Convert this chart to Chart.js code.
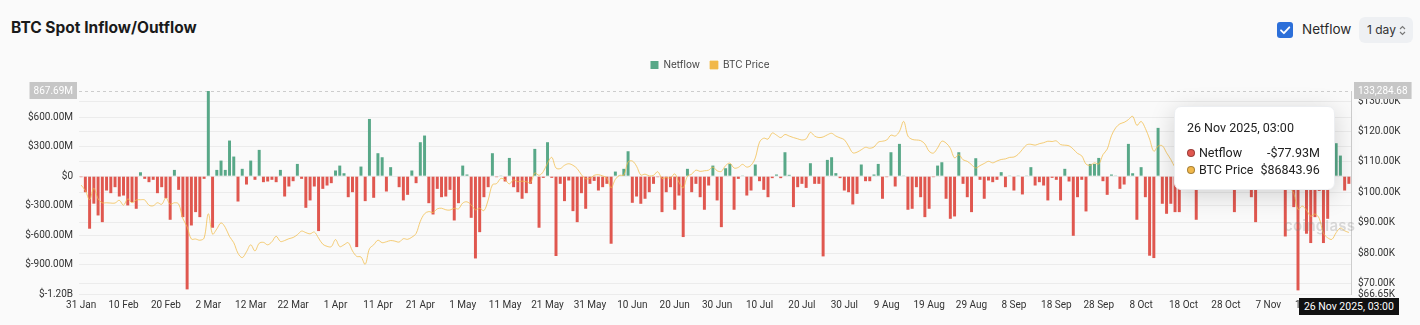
<!DOCTYPE html>
<html>
<head>
<meta charset="utf-8">
<title>BTC Spot Inflow/Outflow</title>
<script src="https://cdn.jsdelivr.net/npm/chart.js@4.4.1/dist/chart.umd.min.js"></script>
<style>
  html, body { margin: 0; padding: 0; background: #fafafa; }
  body { width: 1420px; height: 325px; overflow: hidden; position: relative; font-family: Inter, 'Noto Sans', sans-serif; color: #1d1d1f; }
  #chart { position: absolute; left: 0; top: 0; }
  h1 { position: absolute; left: 11px; top: 20px; margin: 0; font-size: 15.5px; line-height: 15px; font-weight: 700; color: #1a1a1a; }
  .check { position: absolute; left: 1277px; top: 22px; width: 16px; height: 16px; border-radius: 3px; background: #2c6fd9; }
  .check-label { position: absolute; left: 1302px; top: 21px; font-size: 13.5px; line-height: 17px; color: #2a2a2a; }
  .select { position: absolute; left: 1359px; top: 17px; width: 54px; height: 26px; box-sizing: border-box; border-radius: 6px; background: #eef0f3; font-size: 12px; line-height: 26px; padding-left: 8px; color: #333; }
  .select svg { position: absolute; right: 7px; top: 8px; }
  .watermark { position: absolute; left: 1284px; top: 216px; font-size: 15px; color: rgba(130,130,130,0.28); font-weight: 600; letter-spacing: 0.2px; }
  #tip { position: absolute; width: 161px; box-sizing: border-box; padding: 13px 14px 11px 12px; background: #fff; border: 1px solid #eceef1; border-radius: 7px; box-shadow: 0 5px 24px rgba(0,0,0,0.17); font-family: Roboto, sans-serif; font-size: 12.5px; color: #222; opacity: 0; pointer-events: none; white-space: nowrap; }
  #tip .t { margin-bottom: 9px; line-height: 16px; }
  #tip .row { display: flex; align-items: center; line-height: 16.5px; }
  #tip .dot { width: 6px; height: 6px; border-radius: 50%; margin-right: 4px; border: 1px solid rgba(0,0,0,0.3); flex: none; }
  #tip .name { flex: 1; }
  #xlabel { position: absolute; height: 17px; line-height: 17px; padding: 0 5px; background: #111; color: #fff; font-family: Roboto, sans-serif; font-size: 10.5px; white-space: nowrap; opacity: 0; }
</style>
</head>
<body>
<h1>BTC Spot Inflow/Outflow</h1>
<div class="check"><svg width="16" height="16" viewBox="0 0 16 16"><path d="M4 8.3 L6.9 11.2 L12.3 5.3" fill="none" stroke="#fff" stroke-width="1.8" stroke-linecap="round" stroke-linejoin="round"/></svg></div>
<div class="check-label">Netflow</div>
<div class="select">1 day<svg width="7" height="11" viewBox="0 0 7 11"><path d="M1 4 L3.5 1.5 L6 4 M1 7 L3.5 9.5 L6 7" fill="none" stroke="#777" stroke-width="1.1"/></svg></div>
<canvas id="chart" width="1420" height="325"></canvas>
<div class="watermark">coinglass</div>
<div id="tip"></div>
<div id="xlabel"></div>
<script>
// Daily data, 31 Jan 2025 .. 26 Nov 2025
const START_DATE = Date.UTC(2025, 0, 31);
const DAY_COUNT = 300;
const MONTHS = ['Jan', 'Feb', 'Mar', 'Apr', 'May', 'Jun', 'Jul', 'Aug', 'Sep', 'Oct', 'Nov', 'Dec'];

// netflow in millions of USD
const netflow = [
  -10,
  // Feb
  -163, -535, -280, -400, -468, -146, -173, -112, -207, -197, -298, -264, -332, 40, -27, -61, -37, -173, -112, -224, -444, 64, -139, -417, -1153, -502, -366, -417,
  // Mar
  -27, 867.69, -525, 64, 159, 64, 363, 200, -258, 75, -85, 159, -37, 268, -61, -54, -37, -61, 64, -207, -105, -51, 125, -27, -322, -247, -105, -559, -129, -95, -71,
  // Apr
  58, 108, 30, -214, -163, -722, 98, -254, 583, -220, 234, 193, -156, 92, -5, -112, -247, -190, 58, -71, 346, 414, -275, -390, -129, -214, -207, -139, -451, -275,
  // May
  108, 17, -424, -838, -570, -214, -112, 234, -10, 7, -54, 186, -112, -163, -230, -173, -78, 278, -525, -17, 346, -17, -813, -78, -254, -44, -356, -468, -173, -332, -78,
  // Jun
  -48, -146, -112, -78, -688, 47, 7, 75, 254, -271, -207, -281, -230, -163, -78, -10, -366, -163, -112, -342, -197, -620, 75, -163, -78, -214, -342, -95, 108, -247,
  // Jul
  -519, 81, 125, -342, -27, 3, -197, -146, 119, -51, -139, -214, -20, 17, -20, 244, 14, -315, -112, -78, -119, 132, -78, -78, -817, 166, 193, 31, -20, -146, -163,
  // Aug
  -288, -180, 119, -51, -51, 17, 125, -230, -10, 244, -105, 329, 7, -342, -332, -112, -214, -417, -332, -10, 108, 142, -230, -434, -410, 244, -78, -214, -366, 183, -37,
  // Sep
  -230, -44, -61, -37, 41, -112, 3, -146, 3, -186, 7, 92, -95, -61, -95, -247, -17, -37, -247, 75, -54, -607, -214, -37, -359, 125, 125, 186, -51, -190,
  // Oct
  17, 7, -129, -85, 329, 30, -444, 92, -214, -810, -834, 492, -281, -383, -281, -366, -366, -40, -60, -30, -444, -50, -80, 40, -60, -30, 50, -80, -40, -366, -50,
  // Nov
  60, -70, -214, -468, -30, 40, -90, -50, 30, -100, -614, -60, -315, -1163, -120, -586, -681, -417, -150, -681, -434, -30, 336, 210, -146, -77.93
];

const btcPrice = [
  102400,
  // Feb
  100600, 97600, 101400, 97900, 96600, 96600, 96500, 96500, 97400, 95800, 97900, 96600, 97500, 97600, 97500, 95800, 95600, 96600, 96100, 98200, 96100, 96600, 96200, 91400, 88700, 84700, 84700, 84300,
  // Mar
  85000, 93000, 86300, 88000, 90000, 88500, 85500, 83500, 80000, 78600, 80500, 82800, 80800, 83300, 83600, 82800, 83800, 85600, 83900, 84200, 84800, 85200, 86100, 87300, 86800, 86400, 87000, 85000, 83000, 82300, 82200,
  // Apr
  84500, 82200, 82800, 83500, 80800, 79000, 78800, 76400, 81500, 82800, 84300, 83500, 83800, 84200, 84000, 83700, 84800, 84600, 85300, 86500, 90500, 93000, 93700, 93400, 94600, 94800, 94300, 94200, 94800, 94600,
  // May
  96500, 96900, 95900, 94300, 94800, 94000, 97500, 102500, 102900, 104600, 104100, 102800, 104100, 103500, 103700, 103500, 103200, 106400, 105600, 106800, 109600, 111500, 108000, 107800, 108900, 109400, 108900, 107800, 105800, 104500, 104600,
  // Jun
  105600, 105800, 105400, 104700, 101500, 104300, 105600, 105700, 110000, 110300, 108600, 105700, 106000, 105400, 105600, 106800, 104600, 104900, 104700, 106100, 103300, 101500, 105300, 106000, 107300, 106900, 107100, 107300, 108300, 107100,
  // Jul
  106900, 108800, 109600, 108000, 108200, 109200, 108300, 108900, 111300, 116500, 117800, 117500, 119500, 118800, 118000, 119000, 118500, 118000, 117600, 117200, 117600, 119700, 118500, 118000, 118200, 118900, 119400, 118500, 117900, 117300, 115200,
  // Aug
  113000, 113200, 114000, 114800, 114500, 114900, 116500, 116800, 117200, 118800, 118500, 120000, 123300, 118500, 117400, 117200, 117000, 115900, 113500, 112900, 114600, 116800, 116200, 114500, 111300, 112400, 110700, 110200, 109100, 108000, 108800,
  // Sep
  109500, 110200, 109700, 110300, 110800, 111000, 111500, 111600, 112500, 114100, 115600, 115800, 115500, 116000, 116300, 116800, 116700, 116900, 115700, 115500, 115300, 114200, 112800, 112000, 109300, 108900, 109700, 109300, 112400, 114200,
  // Oct
  118600, 121200, 122500, 123000, 123900, 125000, 122000, 123300, 121000, 117500, 113500, 115200, 115300, 113000, 110800, 108200, 106500, 107200, 108700, 110500, 108300, 107600, 110000, 111000, 111600, 114500, 114100, 112900, 110000, 108300, 109600,
  // Nov
  110000, 110600, 106500, 101500, 103900, 101300, 103300, 102300, 104700, 106000, 103000, 101600, 99700, 94400, 95500, 94200, 92200, 92900, 91500, 86600, 85100, 84600, 86800, 88300, 87400, 86843.96
];

// axis ticks (left in millions, right in USD)
const NETFLOW_MIN = -1200;
const NETFLOW_MAX = 867.69;
const netflowTicks = [-1200, -900, -600, -300, 0, 300, 600, NETFLOW_MAX];
const PRICE_MIN = 66650;
const PRICE_MAX = 133284.68;
const priceTicks = [PRICE_MIN, 70000, 80000, 90000, 100000, 110000, 120000, 130000, PRICE_MAX];

const GREEN = '#58a888';
const RED = '#e0574f';
const ORANGE = '#f1b84a';

const shortDates = [];
const fullDates = [];
for (let i = 0; i < DAY_COUNT; i++) {
    const d = new Date(START_DATE + i * 86400000);
    shortDates.push(d.getUTCDate() + ' ' + MONTHS[d.getUTCMonth()]);
    fullDates.push(d.getUTCDate() + ' ' + MONTHS[d.getUTCMonth()] + ' ' + d.getUTCFullYear());
}

function fmtNetflowTick(v) {
    if (v === NETFLOW_MAX) return v.toFixed(2) + 'M';
    if (v === 0) return '$0';
    if (Math.abs(v) >= 1000) return '$' + (v / 1000).toFixed(2) + 'B';
    return '$' + v.toFixed(2) + 'M';
}
function fmtPriceTick(v) {
    if (v === PRICE_MAX) return v.toLocaleString('en-US', { minimumFractionDigits: 2 });
    return '$' + (v / 1000).toFixed(2) + 'K';
}

function externalTooltip(context) {
    const { chart, tooltip } = context;
    const tip = document.getElementById('tip');
    const xlabel = document.getElementById('xlabel');
    if (!tooltip.dataPoints || !tooltip.dataPoints.length) {
        tip.style.opacity = 0;
        xlabel.style.opacity = 0;
        return;
    }
    const idx = tooltip.dataPoints[0].dataIndex;
    const title = fullDates[idx] + ', 03:00';
    let html = '<div class="t">' + title + '</div>';
    tooltip.dataPoints.slice().sort((a, b) => a.datasetIndex - b.datasetIndex).forEach(dp => {
        let color, val;
        if (dp.datasetIndex === 0) {
            color = dp.raw < 0 ? RED : GREEN;
            val = (dp.raw < 0 ? '-$' : '$') + Math.abs(dp.raw).toFixed(2) + 'M';
        } else {
            color = ORANGE;
            val = '$' + dp.raw.toFixed(2);
        }
        html += '<div class="row"><span class="dot" style="background:' + color + '"></span><span class="name">' +
            dp.dataset.label + '</span><span>' + val + '</span></div>';
    });
    tip.innerHTML = html;
    tip.style.left = (tooltip.caretX - 14 - tip.offsetWidth) + 'px';
    tip.style.top = (chart.chartArea.top + 15) + 'px';
    tip.style.opacity = 1;

    xlabel.textContent = title;
    xlabel.style.left = (tooltip.caretX - xlabel.offsetWidth / 2) + 'px';
    xlabel.style.top = (chart.chartArea.bottom + 4) + 'px';
    xlabel.style.opacity = 1;
}

// extra room between the legend and the plot
const legendGap = {
    id: 'legendGap',
    afterInit(chart) {
        const fit = chart.legend.fit;
        chart.legend.fit = function () {
            fit.call(this);
            this.height += 11;
        };
    }
};

Chart.defaults.font.family = "Roboto, 'Noto Sans', sans-serif";
Chart.defaults.font.size = 10;
Chart.defaults.color = '#333';

const ctx = document.getElementById('chart').getContext('2d');
const chart = new Chart(ctx, {
    data: {
        labels: shortDates,
        datasets: [{
            type: 'bar',
            label: 'Netflow',
            data: netflow,
            yAxisID: 'y',
            order: 1,
            backgroundColor: c => (c.type !== 'data' || c.raw >= 0) ? GREEN : RED,
            borderWidth: 0,
            categoryPercentage: 1,
            barPercentage: 0.7
        }, {
            type: 'line',
            label: 'BTC Price',
            data: btcPrice,
            yAxisID: 'y1',
            order: 0,
            borderColor: 'rgba(242, 188, 74, 0.75)',
            backgroundColor: ORANGE,
            borderWidth: 1,
            pointRadius: 0,
            tension: 0.35,
            fill: false
        }]
    },
    plugins: [legendGap],
    options: {
        responsive: false,
        animation: false,
        events: [],
        layout: { padding: { top: 50, left: 0, right: 0, bottom: 0 } },
        plugins: {
            legend: {
                position: 'top',
                labels: {
                    boxWidth: 8,
                    boxHeight: 8,
                    padding: 10,
                    color: '#444',
                    font: { family: "Inter, 'Noto Sans', sans-serif", size: 10 },
                    sort: (a, b) => a.datasetIndex - b.datasetIndex,
                    generateLabels: chart => {
                        const items = Chart.defaults.plugins.legend.labels.generateLabels(chart);
                        items.forEach(it => {
                            if (it.datasetIndex === 0) { it.fillStyle = GREEN; it.strokeStyle = GREEN; }
                        });
                        return items;
                    }
                }
            },
            tooltip: {
                enabled: false,
                external: externalTooltip
            }
        },
        scales: {
            x: {
                offset: true,
                grid: { display: false, drawTicks: false },
                border: { display: false },
                ticks: {
                    autoSkip: false,
                    maxRotation: 0,
                    padding: 5,
                    color: '#333',
                    callback: (v, i) => i % 10 === 0 ? shortDates[i] : ''
                },
                afterFit: s => { s.height = 31; }
            },
            y: {
                position: 'left',
                min: NETFLOW_MIN,
                max: NETFLOW_MAX,
                afterBuildTicks: s => { s.ticks = netflowTicks.map(v => ({ value: v })); },
                afterFit: s => { s.width = 79; },
                grid: {
                    drawTicks: false,
                    color: c => (c.tick && c.tick.value === NETFLOW_MAX) ? '#cdcdcd' : '#ececec'
                },
                border: {
                    display: false,
                    dash: c => (c.tick && c.tick.value === NETFLOW_MAX) ? [3, 3] : []
                },
                ticks: {
                    autoSkip: false,
                    padding: 6,
                    color: c => c.tick.value === NETFLOW_MAX ? '#fff' : '#333',
                    showLabelBackdrop: c => c.tick.value === NETFLOW_MAX,
                    backdropColor: '#c6c6c6',
                    backdropPadding: { top: 3, bottom: 2, left: 4, right: 4 },
                    callback: v => fmtNetflowTick(v)
                }
            },
            y1: {
                position: 'right',
                min: PRICE_MIN,
                max: PRICE_MAX,
                afterBuildTicks: s => { s.ticks = priceTicks.map(v => ({ value: v })); },
                afterFit: s => { s.width = 69; },
                grid: {
                    drawTicks: false,
                    color: c => (c.tick && c.tick.value === PRICE_MAX) ? '#cdcdcd' : '#ececec'
                },
                border: {
                    display: true,
                    color: '#cdcdcd',
                    dash: c => (c.type === 'scale' || (c.tick && c.tick.value === PRICE_MAX)) ? [3, 3] : []
                },
                ticks: {
                    autoSkip: false,
                    padding: 7,
                    color: c => c.tick.value === PRICE_MAX ? '#fff' : '#333',
                    showLabelBackdrop: c => c.tick.value === PRICE_MAX,
                    backdropColor: '#c6c6c6',
                    backdropPadding: { top: 3, bottom: 2, left: 4, right: 4 },
                    callback: v => fmtPriceTick(v)
                }
            }
        }
    }
});

// show the hover state of the last day, as in the snapshot
const last = DAY_COUNT - 1;
const lastBar = chart.getDatasetMeta(0).data[last];
chart.tooltip.setActiveElements(
    [{ datasetIndex: 0, index: last }, { datasetIndex: 1, index: last }],
    { x: lastBar.x, y: chart.chartArea.top + 20 }
);
</script>
</body>
</html>
